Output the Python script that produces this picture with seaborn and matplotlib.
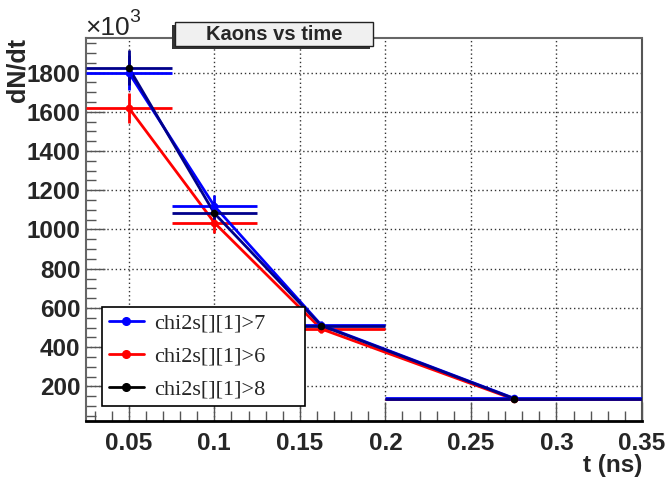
import numpy as np
import pandas as pd
import seaborn as sns
import matplotlib
matplotlib.use("Agg")
import matplotlib.pyplot as plt
from matplotlib.patches import Rectangle
from matplotlib.lines import Line2D
from matplotlib.ticker import MultipleLocator, FixedLocator

# ---- data (values in units of 10^3) ----
t = [0.05, 0.1, 0.1625, 0.275]
t_err = [0.025, 0.025, 0.0375, 0.075]
labels = ["chi2s[][1]>7", "chi2s[][1]>6", "chi2s[][1]>8"]
y_gt7 = [1800, 1120, 513, 140]
e_gt7 = [88, 56, 20, 6]
y_gt6 = [1620, 1035, 493, 135]
e_gt6 = [78, 52, 20, 6]
y_gt8 = [1825, 1083, 510, 138]
e_gt8 = [90, 57, 20, 6]
xticks = [0.05, 0.1, 0.15, 0.2, 0.25, 0.3, 0.35]
xticklabels = ["0.05", "0.1", "0.15", "0.2", "0.25", "0.3", "0.35"]
yticks = [200, 400, 600, 800, 1000, 1200, 1400, 1600, 1800]

sns.set_style("white")
plt.rcParams['font.family'] = ['Liberation Sans', 'DejaVu Sans']

W, H = 669, 478
fig = plt.figure(figsize=(W / 100, H / 100), dpi=100)
L, R, T, B = 86, 642, 37.7, 420.7
ax = fig.add_axes([L / W, 1 - B / H, (R - L) / W, (B - T) / H])

series = [
    (labels[1], y_gt6, e_gt6, "#ff0000", "#ff0000"),
    (labels[0], y_gt7, e_gt7, "#0000ff", "#0000ff"),
    (labels[2], y_gt8, e_gt8, "#00008b", "#000000"),
]
for name, yv, ev, col, mcol in series:
    df = pd.DataFrame({"t": t, "y": yv})
    sns.lineplot(data=df, x="t", y="y", ax=ax, color=col, lw=2, sort=False,
                 marker=None, legend=False, zorder=3)
    ax.errorbar(t, yv, xerr=t_err, yerr=ev, fmt="none", ecolor=col,
                elinewidth=2, capsize=0, zorder=3)
    ax.scatter(t, yv, s=30, color=mcol, zorder=4, linewidths=0)

ax.set_xlim(0.025, 0.35)
ax.set_ylim(25, 1978)
ax.set_xlabel("")
ax.set_ylabel("")

ax.xaxis.set_major_locator(FixedLocator(xticks))
ax.set_xticklabels(xticklabels)
ax.xaxis.set_minor_locator(MultipleLocator(0.01))
ax.yaxis.set_major_locator(FixedLocator(yticks))
ax.yaxis.set_minor_locator(MultipleLocator(50))
ax.tick_params(axis="both", which="major", direction="in", length=14, width=1,
               color="#555555", labelsize=17.5, pad=8)
ax.tick_params(axis="both", which="minor", direction="in", length=7, width=1,
               color="#555555")
ax.tick_params(axis="y", which="both", left=True, right=False)
ax.tick_params(axis="x", which="both", bottom=True, top=False)
for lab in ax.get_xticklabels() + ax.get_yticklabels():
    lab.set_fontweight("bold")
ax.tick_params(axis="y", pad=4)

ax.grid(True, which="major", ls=(0, (1, 2)), color="#333333", lw=1)
for s in ["left", "top"]:
    ax.spines[s].set_color("#666666")
    ax.spines[s].set_linewidth(1.5)
ax.spines["bottom"].set_color("#000000")
ax.spines["bottom"].set_linewidth(2)
ax.spines["right"].set_color("#555555")
ax.spines["right"].set_linestyle((0, (1, 1)))
ax.spines["right"].set_linewidth(1.5)

# legend
handles = [
    Line2D([], [], color="#0000ff", lw=2, marker="o", ms=5.5),
    Line2D([], [], color="#ff0000", lw=2, marker="o", ms=5.5),
    Line2D([], [], color="#000000", lw=2, marker="o", ms=5.5),
]
lx0 = (102 - L) / (R - L)
lx1 = (305 - L) / (R - L)
ly0 = (B - 406) / (B - T)
leg = ax.legend(handles, labels, loc="lower left", mode="expand",
                bbox_to_anchor=(lx0, ly0, lx1 - lx0, 0.1),
                borderaxespad=0, frameon=True, fancybox=False, shadow=False,
                prop={"family": "Liberation Serif", "size": 16},
                handlelength=1.6, handletextpad=0.45, borderpad=0.3,
                labelspacing=0.55)
leg.get_frame().set_edgecolor("black")
leg.get_frame().set_linewidth(1.2)
leg.get_frame().set_facecolor("white")
leg.get_frame().set_alpha(1)
leg.set_zorder(10)

# title box with shadow
def fx(px):
    return px / W
def fy(py):
    return 1 - py / H
bx0, bx1, by0, by1 = 175, 373, 22, 46
fig.patches.append(Rectangle((fx(bx0 - 3), fy(by1 + 3)), fx(bx1 - bx0), (by1 - by0) / H,
                             transform=fig.transFigure, facecolor="#333333",
                             edgecolor="none", zorder=5))
fig.patches.append(Rectangle((fx(bx0), fy(by1)), fx(bx1 - bx0), (by1 - by0) / H,
                             transform=fig.transFigure, facecolor="#f0f0f0",
                             edgecolor="#222222", lw=1, zorder=6))
fig.text(fx((bx0 + bx1) / 2), fy((by0 + by1) / 2), "Kaons vs time", ha="center",
         va="center", fontsize=14.5, fontweight="bold", zorder=7)

# axis labels
fig.text(fx(18), fy(38), "dN/dt", rotation=90, ha="center", va="top",
         fontsize=18, fontweight="bold")
fig.text(fx(642), fy(472), "t (ns)", ha="right", va="baseline",
         fontsize=17.5, fontweight="bold")
fig.text(fx(85), fy(35), "×10", ha="left", va="baseline", fontsize=19)
fig.text(fx(129), fy(22), "3", ha="left", va="baseline", fontsize=14)

fig.savefig("out.png", dpi=100)
